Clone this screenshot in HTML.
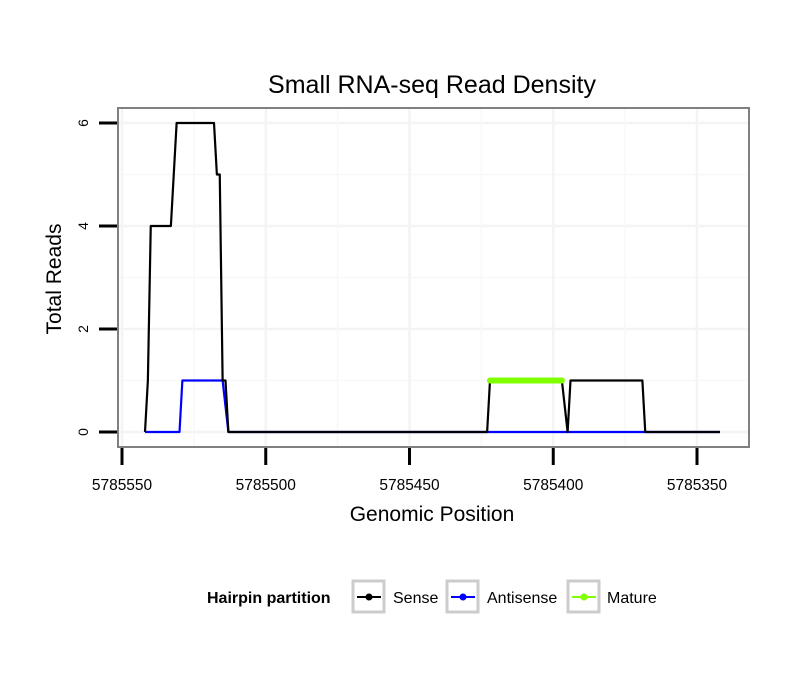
<!DOCTYPE html>
<html><head><meta charset="utf-8"><style>
body{margin:0;background:#fff;font-family:"Liberation Sans",sans-serif}
</style></head><body>
<svg id="c" width="810" height="690" xmlns="http://www.w3.org/2000/svg" font-family="Liberation Sans, sans-serif">
<defs><clipPath id="pc"><rect x="118" y="108" width="631" height="339"/></clipPath></defs>
<text x="432" y="93" font-size="25" text-anchor="middle">Small RNA-seq Read Density</text>
<rect x="118" y="108" width="631" height="339" fill="#fff"/>
<g id="grid" clip-path="url(#pc)"></g>
<g id="series"></g>
<rect x="118" y="108" width="631" height="339" fill="none" stroke="#808080" stroke-width="2"/>
<g id="axes"></g>
<text x="432" y="521" font-size="21" text-anchor="middle">Genomic Position</text>
<text transform="translate(61,279) rotate(-90)" font-size="21" text-anchor="middle">Total Reads</text>
<g>
<text x="207" y="603" font-size="16" font-weight="bold">Hairpin partition</text>
<g>
<rect x="353" y="581" width="31" height="31" fill="#fff" stroke="#ccc" stroke-width="3"/>
<line x1="357" y1="597" x2="381" y2="597" stroke="#000" stroke-width="2"/><circle cx="369" cy="597" r="3.5" fill="#000"/>
<text x="393" y="603" font-size="16">Sense</text></g>
<g>
<rect x="447" y="581" width="31" height="31" fill="#fff" stroke="#ccc" stroke-width="3"/>
<line x1="451" y1="597" x2="475" y2="597" stroke="#00f" stroke-width="2"/><circle cx="463" cy="597" r="3.5" fill="#00f"/>
<text x="487" y="603" font-size="16">Antisense</text></g>
<g>
<rect x="568" y="581" width="31" height="31" fill="#fff" stroke="#ccc" stroke-width="3"/>
<line x1="572" y1="597" x2="596" y2="597" stroke="#7fff00" stroke-width="2"/><circle cx="584" cy="597" r="3.5" fill="#7fff00"/>
<text x="607" y="603" font-size="16">Mature</text></g>
</g>
</svg>
<script>
const xTicks=[5785550,5785500,5785450,5785400,5785350];
const yTicks=[0,2,4,6];
const senseX=[5785542,5785541,5785540,5785533,5785531,5785518,5785517,5785516,5785515,5785514,5785513,5785423,5785422,5785397,5785395,5785394,5785369,5785368,5785342];
const senseY=[0,1,4,4,6,6,5,5,1,1,0,0,1,1,0,1,1,0,0];
const antiX=[5785542,5785530,5785529,5785515,5785513,5785342];
const antiY=[0,0,1,1,0,0];
const matureX=[5785422,5785397];
const matureY=[1,1];
const NS="http://www.w3.org/2000/svg";
const xs=v=>122+(5785550-v)*2.875;
const ys=v=>432-v*51.5;
function mk(t,a,p){const e=document.createElementNS(NS,t);for(const k in a)e.setAttribute(k,a[k]);p.appendChild(e);return e;}
const grid=document.getElementById('grid'),axes=document.getElementById('axes'),ser=document.getElementById('series');
for(let i=0;i<yTicks.length;i++){
 const v=yTicks[i];
 const g=mk('line',{x1:118,x2:749,y1:ys(v),y2:ys(v),stroke:'#f4f4f4','stroke-width':2.5},grid);
 
 
 const m=mk('line',{x1:118,x2:749,y1:ys(v+1),y2:ys(v+1),stroke:'#f8f8f8','stroke-width':1.5},grid);
 
 
 const t=mk('line',{x1:99,x2:117,y1:ys(v),y2:ys(v),stroke:'#000','stroke-width':3},axes);
 
 
 const l=mk('text',{transform:`translate(88,${ys(v)}) rotate(-90)`,'font-size':14,'text-anchor':'middle'},axes);
 l.textContent=v;
 
 
}
for(let i=0;i<xTicks.length;i++){
 const v=xTicks[i];
 const g=mk('line',{x1:xs(v),x2:xs(v),y1:108,y2:447,stroke:'#f4f4f4','stroke-width':2.5},grid);
 
 
 const m=mk('line',{x1:xs(v-25),x2:xs(v-25),y1:108,y2:447,stroke:'#f8f8f8','stroke-width':1.5},grid);
 
 
 const t=mk('line',{x1:xs(v),x2:xs(v),y1:448,y2:465,stroke:'#000','stroke-width':3},axes);
 
 
 const l=mk('text',{x:xs(v),y:490,'font-size':15.5,'text-anchor':'middle'},axes);
 l.textContent=v;
 
 
}
function line(X,Y,col,w,name){
 const pts=X.map((x,i)=>xs(x)+','+ys(Y[i])).join(' ');
 const p=mk('polyline',{points:pts,fill:'none',stroke:col,'stroke-width':w,'stroke-linejoin':'round','stroke-linecap':w>3?'round':'butt'},ser);
 
 
}
line(antiX,antiY,'#0000ff',2.2,'antisense-line');
line(senseX,senseY,'#000',2.2,'sense-line');
line(matureX,matureY,'#7fff00',6,'mature-line');
</script>
</body></html>
